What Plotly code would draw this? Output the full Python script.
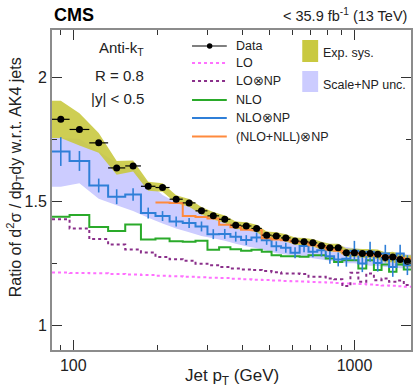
import numpy as np
import plotly.graph_objects as go

# ---------------- data ----------------
bin_edges = [84, 97, 114, 133, 153, 174, 196, 220, 245, 272, 300, 330, 362, 395, 430,
             468, 507, 548, 592, 638, 686, 737, 790, 846, 905, 967, 1032, 1101, 1172,
             1248, 1327, 1410, 1497, 1588]

data_ratio = [1.830, 1.789, 1.735, 1.634, 1.642, 1.560, 1.555, 1.508, 1.493, 1.461, 1.441,
              1.427, 1.403, 1.400, 1.390, 1.363, 1.360, 1.352, 1.339, 1.336, 1.332, 1.320,
              1.312, 1.312, 1.292, 1.292, 1.289, 1.289, 1.286, 1.273, 1.275, 1.265, 1.258]
data_stat = [0.006, 0.005, 0.005, 0.005, 0.004, 0.004, 0.004, 0.004, 0.004, 0.004, 0.004,
             0.004, 0.004, 0.004, 0.004, 0.004, 0.004, 0.004, 0.004, 0.004, 0.004, 0.004,
             0.004, 0.004, 0.005, 0.005, 0.005, 0.005, 0.005, 0.006, 0.006, 0.006, 0.007]
exp_sys = [0.075, 0.065, 0.040, 0.028, 0.022, 0.018, 0.017, 0.016, 0.016, 0.015, 0.015,
           0.015, 0.015, 0.015, 0.015, 0.015, 0.015, 0.015, 0.015, 0.015, 0.015, 0.016,
           0.016, 0.016, 0.017, 0.017, 0.018, 0.018, 0.019, 0.020, 0.021, 0.022, 0.024]

lo = [1.212, 1.210, 1.209, 1.206, 1.204, 1.202, 1.199, 1.197, 1.195, 1.193, 1.191,
      1.190, 1.187, 1.185, 1.183, 1.182, 1.180, 1.178, 1.177, 1.176, 1.174, 1.173,
      1.172, 1.170, 1.168, 1.167, 1.166, 1.164, 1.162, 1.160, 1.159, 1.157, 1.155]
lo_np = [1.427, 1.390, 1.347, 1.325, 1.305, 1.293, 1.275, 1.266, 1.260, 1.248, 1.242,
         1.235, 1.229, 1.225, 1.222, 1.218, 1.213, 1.208, 1.208, 1.206, 1.195, 1.195,
         1.188, 1.185, 1.158, 1.211, 1.175, 1.208, 1.181, 1.188, 1.175, 1.180, 1.162]
nlo = [1.437, 1.444, 1.396, 1.380, 1.406, 1.345, 1.349, 1.338, 1.336, 1.340, 1.304,
       1.314, 1.306, 1.300, 1.304, 1.296, 1.282, 1.278, 1.278, 1.276, 1.282, 1.282,
       1.269, 1.255, 1.262, 1.262, 1.229, 1.262, 1.222, 1.245, 1.215, 1.245, 1.225]
nlo_np = [1.700, 1.662, 1.563, 1.518, 1.527, 1.452, 1.440, 1.418, 1.412, 1.398, 1.367,
          1.368, 1.357, 1.343, 1.354, 1.342, 1.318, 1.312, 1.292, 1.319, 1.296, 1.302,
          1.278, 1.265, 1.268, 1.300, 1.249, 1.296, 1.251, 1.289, 1.235, 1.289, 1.242]
nlo_np_err = [0.058, 0.040, 0.028, 0.030, 0.025, 0.022, 0.020, 0.020, 0.020, 0.020, 0.020,
              0.020, 0.020, 0.020, 0.020, 0.018, 0.020, 0.020, 0.022, 0.025, 0.022, 0.025,
              0.030, 0.028, 0.032, 0.040, 0.035, 0.040, 0.035, 0.035, 0.040, 0.035, 0.040]
scale_np_up = [1.755, 1.752, 1.700, 1.655, 1.630, 1.575, 1.525, 1.495, 1.478, 1.462, 1.442,
               1.425, 1.408, 1.393, 1.385, 1.375, 1.363, 1.355, 1.350, 1.345, 1.340, 1.335,
               1.325, 1.320, 1.315, 1.310, 1.305, 1.300, 1.300, 1.295, 1.290, 1.290, 1.285]
scale_np_dn = [1.558, 1.572, 1.510, 1.484, 1.460, 1.433, 1.410, 1.390, 1.375, 1.360, 1.350,
               1.340, 1.328, 1.318, 1.310, 1.300, 1.290, 1.285, 1.280, 1.275, 1.270, 1.265,
               1.260, 1.255, 1.250, 1.250, 1.245, 1.240, 1.240, 1.235, 1.235, 1.230, 1.230]
# (NLO+NLL)xNP available from the 7th bin on
nll_first_bin = 6
nlo_nll_np = [1.495, 1.493, 1.440, 1.436, 1.430, 1.405, 1.395, 1.385, 1.383, 1.350, 1.345,
              1.342, 1.336, 1.333, 1.322, 1.318, 1.305, 1.300, 1.290, 1.290, 1.285, 1.283,
              1.280, 1.278, 1.272, 1.272, 1.268]

x_tick_major = [100, 1000]
x_tick_minor = [90, 200, 300, 400, 500, 600, 700, 800, 900]
y_tick_major = [1, 1.5, 2]
y_tick_minor = [1.25, 1.75]

# ---------------- colours ----------------
C_SYS = "#c9c940"
C_SCALE = "#ccccff"
C_LO = "#ff70ff"
C_LONP = "#8a2f8a"
C_NLO = "#2aaa2a"
C_NLONP = "#2f7fd8"
C_NLL = "#ff8a3d"
FONT = "Liberation Sans, Arial, Helvetica, sans-serif"

edges = np.array(bin_edges, dtype=float)
lo_e, hi_e = edges[:-1], edges[1:]
centers = np.sqrt(lo_e * hi_e)


def band_xy(up, dn):
    xs = [edges[0]] + list(centers) + [edges[-1]]
    yu = [up[0]] + list(up) + [up[-1]]
    yd = [dn[0]] + list(dn) + [dn[-1]]
    return xs + xs[::-1], yu + yd[::-1]


def step_xy(xedges, vals):
    return list(xedges), list(vals) + [vals[-1]]


fig = go.Figure()

# Scale+NP band
bx, by = band_xy(scale_np_up, scale_np_dn)
fig.add_trace(go.Scatter(x=bx, y=by, fill="toself", fillcolor=C_SCALE, mode="none",
                         hoverinfo="skip", showlegend=False))
# Exp sys band
d = np.array(data_ratio)
s = np.array(exp_sys)
bx, by = band_xy(list(d + s), list(d - s))
fig.add_trace(go.Scatter(x=bx, y=by, fill="toself", fillcolor=C_SYS, mode="none",
                         opacity=0.9, hoverinfo="skip", showlegend=False))

# LO
sx, sy = step_xy(edges, lo)
fig.add_trace(go.Scatter(x=sx, y=sy, mode="lines", line=dict(color=C_LO, width=2, dash="dot", shape="hv"),
                         showlegend=False))
# LO x NP
sx, sy = step_xy(edges, lo_np)
fig.add_trace(go.Scatter(x=sx, y=sy, mode="lines", line=dict(color=C_LONP, width=2, dash="dot", shape="hv"),
                         showlegend=False))
# NLO
sx, sy = step_xy(edges, nlo)
fig.add_trace(go.Scatter(x=sx, y=sy, mode="lines", line=dict(color=C_NLO, width=2, shape="hv"),
                         showlegend=False))
# NLO x NP
sx, sy = step_xy(edges, nlo_np)
fig.add_trace(go.Scatter(x=sx, y=sy, mode="lines", line=dict(color=C_NLONP, width=2, shape="hv"),
                         showlegend=False))
fig.add_trace(go.Scatter(x=centers, y=nlo_np, mode="markers", marker=dict(size=1, color=C_NLONP, opacity=0),
                         error_y=dict(type="data", array=nlo_np_err, color=C_NLONP, thickness=1.6, width=0),
                         showlegend=False))
# (NLO+NLL) x NP
sx, sy = step_xy(edges[nll_first_bin:], nlo_nll_np)
fig.add_trace(go.Scatter(x=sx, y=sy, mode="lines", line=dict(color=C_NLL, width=2, shape="hv"),
                         showlegend=False))

# Data
fig.add_trace(go.Scatter(x=centers, y=data_ratio, mode="markers",
                         marker=dict(color="black", size=7),
                         error_x=dict(type="data", array=list(hi_e - centers), arrayminus=list(centers - lo_e),
                                      color="black", thickness=1.2, width=0),
                         error_y=dict(type="data", array=data_stat, color="black", thickness=1.2, width=0),
                         showlegend=False))

# ---------------- layout ----------------
W, H = 415, 392
L, R, T, B = 52, 1.5, 30, 42
PW, PH = W - L - R, H - T - B


def px(xp):
    return (xp - L) / PW


def py(yp):
    return (H - B - yp) / PH


axis_common = dict(showline=True, linecolor="#8c8c8c", linewidth=2, mirror="allticks",
                   ticks="inside", tickcolor="#333", tickwidth=1, ticklen=10,
                   showgrid=False, zeroline=False,
                   tickfont=dict(family=FONT, size=16, color="#222"))

fig.update_layout(
    width=W, height=H, margin=dict(l=L, r=R, t=T, b=B),
    paper_bgcolor="white", plot_bgcolor="white",
    xaxis=dict(type="log", range=[np.log10(bin_edges[0]), np.log10(bin_edges[-1])],
               tickmode="array", tickvals=x_tick_major, ticktext=[str(v) for v in x_tick_major],
               minor=dict(tickmode="array", tickvals=x_tick_minor, ticks="inside", ticklen=5,
                          tickcolor="#333", showgrid=False),
               **axis_common),
    yaxis=dict(range=[0.9, 2.19], tickmode="array", tickvals=y_tick_major,
               ticktext=["1", "1.5", "2"],
               minor=dict(tickmode="array", tickvals=y_tick_minor, ticks="inside", ticklen=5,
                          tickcolor="#333", showgrid=False),
               **axis_common),
    showlegend=False,
)

ann = []
# titles
ann.append(dict(text="Jet p<sub>T</sub> (GeV)", x=0.5, y=py(377), xref="paper", yref="paper",
                xanchor="center", yanchor="middle", showarrow=False,
                font=dict(family=FONT, size=17, color="#222")))
ann.append(dict(text="Ratio of d<sup>2</sup>σ / dp<sub>T</sub>dy w.r.t. AK4 jets", x=px(15), y=py(177),
                xref="paper", yref="paper", xanchor="center", yanchor="middle", textangle=-90,
                showarrow=False, font=dict(family=FONT, size=16, color="#222")))
ann.append(dict(text="<b>CMS</b>", x=px(52), y=py(15), xref="paper", yref="paper",
                xanchor="left", yanchor="middle", showarrow=False,
                font=dict(family=FONT, size=18, color="black")))
ann.append(dict(text="< 35.9 fb<sup>-1</sup> (13 TeV)", x=px(411), y=py(15), xref="paper", yref="paper",
                xanchor="right", yanchor="middle", showarrow=False,
                font=dict(family=FONT, size=14.5, color="#222")))
# info text
for txt, yy in [("Anti-k<sub>T</sub>", 49), ("R = 0.8", 75), ("|y| < 0.5", 99)]:
    ann.append(dict(text=txt, x=px(147), y=py(yy), xref="paper", yref="paper",
                    xanchor="right", yanchor="middle", showarrow=False,
                    font=dict(family=FONT, size=15, color="#222")))

# manual legend
shapes = []
rows = [("Data", 46, "black", "solid"), ("LO", 63, C_LO, "dot"), ("LO⊗NP", 81, C_LONP, "dot"),
        ("NLO", 100, C_NLO, "solid"), ("NLO⊗NP", 118, C_NLONP, "solid"),
        ("(NLO+NLL)⊗NP", 136.5, C_NLL, "solid")]
for name, yy, col, dash in rows:
    shapes.append(dict(type="line", xref="paper", yref="paper", x0=px(193), x1=px(228), y0=py(yy), y1=py(yy),
                       line=dict(color=col, width=1.2 if name == "Data" else 2, dash=dash)))
    ann.append(dict(text=name, x=px(235.5), y=py(yy), xref="paper", yref="paper",
                    xanchor="left", yanchor="middle", showarrow=False,
                    font=dict(family=FONT, size=12.5, color="#222")))
shapes.append(dict(type="circle", xref="paper", yref="paper", x0=px(208), x1=px(213.5), y0=py(43.2), y1=py(48.8),
                   fillcolor="black", line=dict(color="black", width=0)))
# box legend
shapes.append(dict(type="rect", xref="paper", yref="paper", x0=px(304), x1=px(320), y0=py(40), y1=py(62),
                   fillcolor=C_SYS, line=dict(width=0)))
shapes.append(dict(type="rect", xref="paper", yref="paper", x0=px(304), x1=px(320), y0=py(71), y1=py(92),
                   fillcolor=C_SCALE, line=dict(width=0)))
ann.append(dict(text="Exp. sys.", x=px(323), y=py(53), xref="paper", yref="paper",
                xanchor="left", yanchor="middle", showarrow=False,
                font=dict(family=FONT, size=12.5, color="#222")))
ann.append(dict(text="Scale+NP unc.", x=px(323), y=py(85), xref="paper", yref="paper",
                xanchor="left", yanchor="middle", showarrow=False,
                font=dict(family=FONT, size=12.5, color="#222")))

fig.update_layout(annotations=ann, shapes=shapes)
fig.write_html("out.html", config={"displayModeBar": False},
               post_script="document.body.style.margin='0';document.body.style.overflow='hidden';")
